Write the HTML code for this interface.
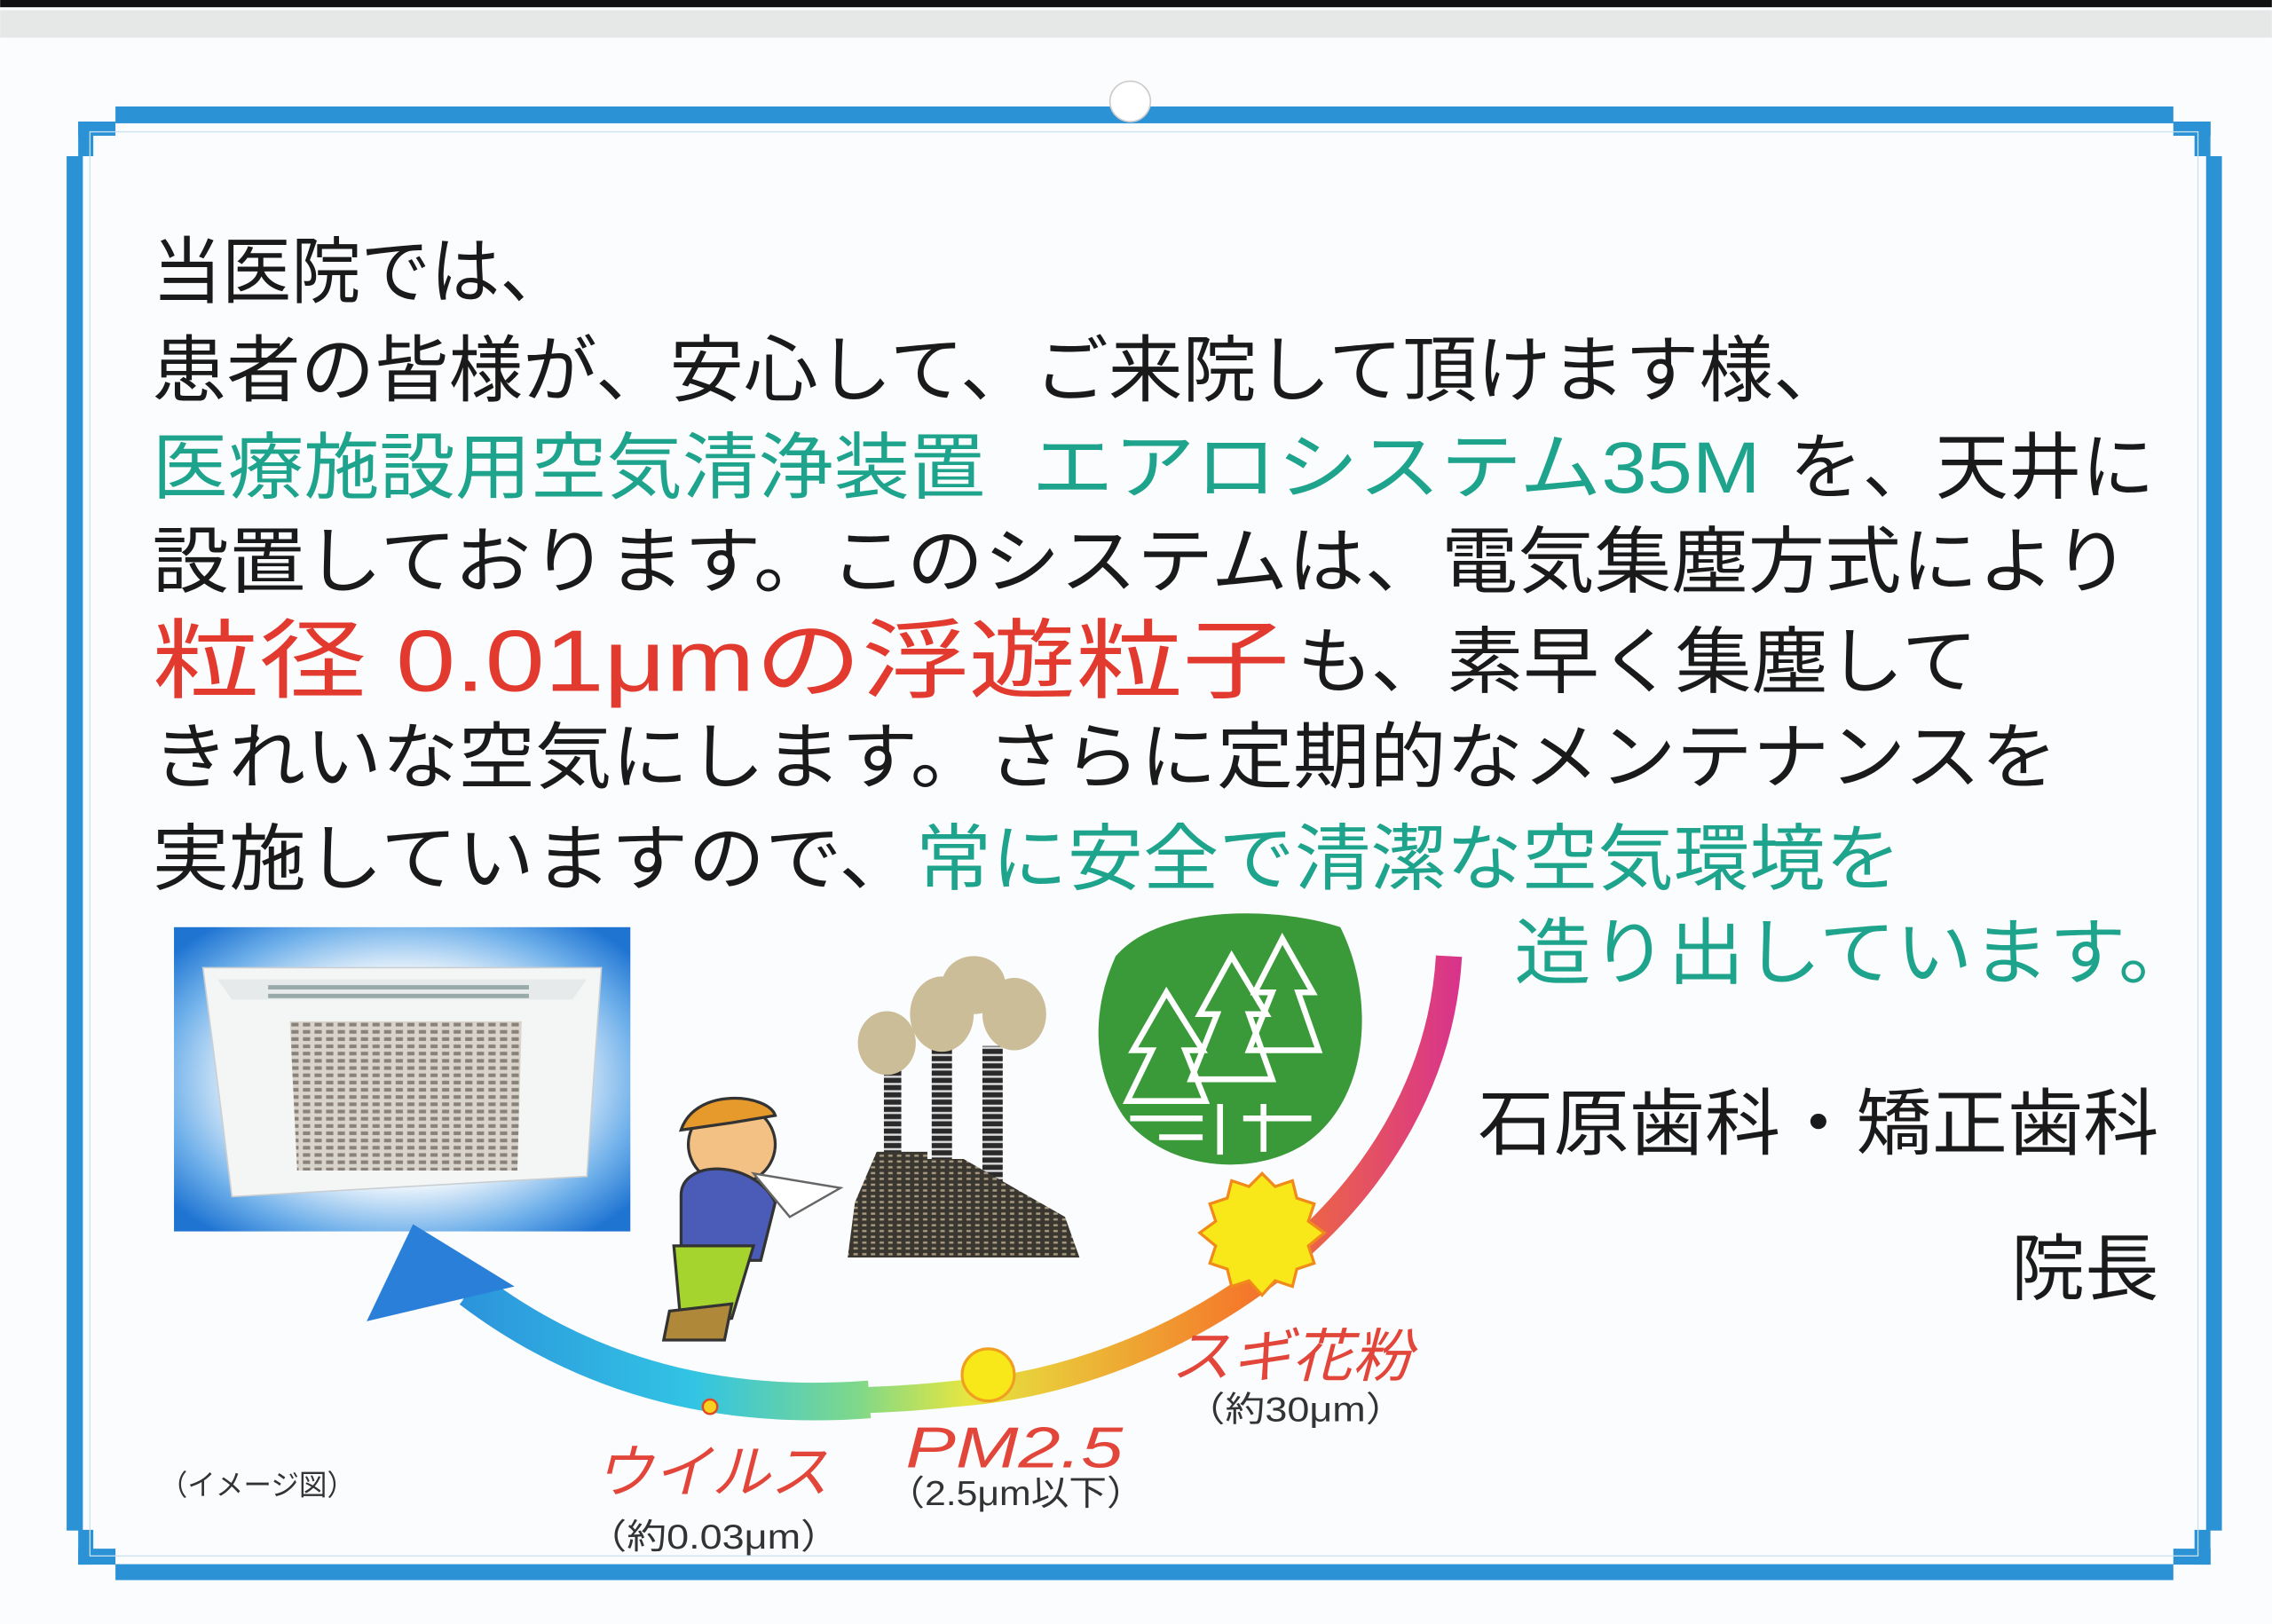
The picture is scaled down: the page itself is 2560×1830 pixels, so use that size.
<!DOCTYPE html>
<html><head><meta charset="utf-8"><style>
html,body{margin:0;padding:0;background:#fbfcfd;}
svg{display:block;}
text{font-family:"Liberation Sans","Noto Sans CJK JP",sans-serif;}
</style></head><body>
<svg width="2560" height="1830" viewBox="0 0 1568 1121" xmlns="http://www.w3.org/2000/svg">
<defs>
<radialGradient id="bx" cx="50%" cy="50%" r="65%">
<stop offset="0.55" stop-color="#e8f2fb"/><stop offset="0.8" stop-color="#6fb0ea"/><stop offset="1" stop-color="#1f74d2"/>
</radialGradient>
<linearGradient id="arc" x1="250" y1="0" x2="1010" y2="0" gradientUnits="userSpaceOnUse">
<stop offset="0" stop-color="#2a7fd8"/><stop offset="0.3" stop-color="#31c4e4"/><stop offset="0.45" stop-color="#7fd88a"/><stop offset="0.55" stop-color="#e6e640"/><stop offset="0.8" stop-color="#f47a2a"/><stop offset="1" stop-color="#d8328e"/>
</linearGradient>
<pattern id="grill" width="8" height="5" patternUnits="userSpaceOnUse"><rect width="8" height="5" fill="#d8d4cc"/><rect x="1" y="1" width="5" height="2.5" fill="#8a8278"/></pattern>
<pattern id="brick" width="6" height="4" patternUnits="userSpaceOnUse"><rect width="6" height="4" fill="#3a3630"/><rect x="1" y="1" width="3" height="1.5" fill="#a89a80"/></pattern>
<pattern id="stripe" width="10" height="5" patternUnits="userSpaceOnUse"><rect width="10" height="5" fill="#2a2a2a"/><rect y="2.5" width="10" height="1.5" fill="#ddd"/></pattern>
</defs>
<rect x="0" y="0" width="1568" height="1121" fill="#fbfcfd"/>
<rect x="0" y="0" width="1568" height="5" fill="#111"/>
<rect x="0" y="7" width="1568" height="19" fill="#e6e8e8"/>
<!-- border -->
<g fill="#2b92d6">
<rect x="79.6" y="73.5" width="1420.4" height="11.6"/>
<rect x="45.9" y="107.8" width="11.2" height="948.7"/>
<rect x="53.9" y="83.9" width="25.7" height="9.8"/>
<rect x="53.9" y="83.9" width="10.4" height="23.9"/>
<rect x="79.6" y="1079.7" width="1420.4" height="11"/>
<rect x="1522.6" y="107.8" width="10.9" height="948.7"/>
<rect x="1500" y="83.9" width="25.7" height="9.8"/>
<rect x="1514.6" y="83.9" width="11" height="23.9"/>
<rect x="1500" y="1069" width="25.7" height="11"/>
<rect x="1514.6" y="1056" width="11" height="24"/>
<rect x="53.9" y="1069" width="25.7" height="11"/>
<rect x="53.9" y="1056" width="10.4" height="24"/>
</g>
<rect x="62" y="91" width="1455" height="983" fill="none" stroke="#c8e2ef" stroke-width="0.8"/>
<circle cx="780" cy="70" r="14" fill="#fff" stroke="#ccc" stroke-width="1"/>

<!-- main text -->
<g font-size="50" fill="#1a1a1a">
<text x="105" y="205" textLength="288" lengthAdjust="spacingAndGlyphs">当医院では、</text>
<text x="105" y="273" textLength="1170" lengthAdjust="spacingAndGlyphs">患者の皆様が、安心して、ご来院して頂けます様、</text>
<text x="105" y="340" fill="#1ea38c" textLength="575" lengthAdjust="spacingAndGlyphs">医療施設用空気清浄装置</text>
<text x="712" y="340" fill="#1ea38c" textLength="503" lengthAdjust="spacingAndGlyphs">エアロシステム35M</text>
<text x="1235" y="340" textLength="252" lengthAdjust="spacingAndGlyphs">を、天井に</text>
<text x="105" y="405" textLength="1365" lengthAdjust="spacingAndGlyphs">設置しております。このシステムは、電気集塵方式により</text>
<text x="105" y="477" font-size="60" fill="#e23a2e" textLength="785" lengthAdjust="spacingAndGlyphs">粒径 0.01μmの浮遊粒子</text>
<text x="895" y="474" textLength="470" lengthAdjust="spacingAndGlyphs">も、素早く集塵して</text>
<text x="105" y="540" textLength="1315" lengthAdjust="spacingAndGlyphs">きれいな空気にします。さらに定期的なメンテナンスを</text>
<text x="105" y="610" textLength="527" lengthAdjust="spacingAndGlyphs">実施していますので、</text>
<text x="632" y="610" fill="#1ea38c" textLength="680" lengthAdjust="spacingAndGlyphs">常に安全で清潔な空気環境を</text>
<text x="1045" y="675" fill="#1ea38c" textLength="470" lengthAdjust="spacingAndGlyphs">造り出しています。</text>
<text x="1020" y="793" textLength="470" lengthAdjust="spacingAndGlyphs">石原歯科・矯正歯科</text>
<text x="1388" y="893" textLength="102" lengthAdjust="spacingAndGlyphs">院長</text>
</g>

<!-- photo box -->
<rect x="120" y="640" width="315" height="210" fill="url(#bx)"/>
<polygon points="140,668 415,668 405,812 160,826" fill="#f4f6f6" stroke="#c9cfd2"/>
<polygon points="150,676 405,676 395,690 160,690" fill="#e6eaea"/>
<rect x="185" y="680" width="180" height="3" fill="#9aa"/>
<rect x="185" y="686" width="180" height="3" fill="#9aa"/>
<polygon points="200,705 360,705 357,808 205,808" fill="url(#grill)"/>

<!-- arc arrow -->
<path d="M1000,660 C990,830 820,950 660,962 C540,975 420,965 325,890" fill="none" stroke="url(#arc)" stroke-width="18"/>
<path d="M600,966 C520,972 420,962 325,890" fill="none" stroke="url(#arc)" stroke-width="26"/>
<polygon points="253,912 285,845 355,888" fill="#2a7fd8"/>

<!-- forest -->
<path d="M770,660 C800,625 880,625 925,640 C950,690 945,760 900,790 C860,815 800,805 775,770 C755,740 752,700 770,660 Z" fill="#3a9a3a"/>
<g fill="none" stroke="#fff" stroke-width="4" stroke-linejoin="miter">
<path d="M805,685 L782,725 L795,725 L778,760 L832,760 L818,725 L830,725 Z"/>
<path d="M850,660 L828,700 L840,700 L822,745 L878,745 L862,700 L874,700 Z"/>
<path d="M885,648 L866,685 L878,685 L862,725 L910,725 L896,685 L906,685 Z"/>
<path d="M780,772 L830,772 M842,762 L842,797 M858,772 L905,772 M872,762 L872,795 M800,785 L830,785"/>
</g>

<!-- factory -->
<g fill="url(#stripe)">
<rect x="610" y="730" width="12" height="85"/>
<rect x="643" y="710" width="14" height="105"/>
<rect x="678" y="722" width="14" height="95"/>
</g>
<polygon points="590,830 605,795 640,795 640,800 665,800 700,820 735,840 745,868 585,868" fill="url(#brick)"/>
<g fill="#cbbd98">
<ellipse cx="612" cy="720" rx="20" ry="22"/>
<ellipse cx="650" cy="700" rx="22" ry="26"/>
<ellipse cx="700" cy="700" rx="22" ry="25"/>
<ellipse cx="672" cy="680" rx="22" ry="20"/>
</g>

<!-- person -->
<ellipse cx="505" cy="790" rx="30" ry="28" fill="#f3c184" stroke="#333" stroke-width="2"/>
<path d="M470,780 C480,750 530,755 535,770 L505,775 Z" fill="#e69a2c" stroke="#333" stroke-width="2"/>
<path d="M470,825 C470,800 520,800 535,830 L525,870 L470,870 Z" fill="#4a5cb8" stroke="#333" stroke-width="2"/>
<path d="M520,810 L580,820 L545,840 Z" fill="#fff" stroke="#666" stroke-width="1.5"/>
<path d="M465,860 L520,860 L505,910 L470,915 Z" fill="#a6d42e" stroke="#333" stroke-width="2"/>
<path d="M462,905 L505,900 L500,925 L458,925 Z" fill="#b0883a" stroke="#333" stroke-width="2"/>

<!-- particles -->
<polygon fill="#f8e81a" stroke="#f08a1a" stroke-width="2" points="871,810 880,819 892,815 895,827 907,831 903,843 914,851 903,860 907,872 895,876 892,888 880,884 871,894 862,884 850,888 847,876 835,872 839,860 828,851 839,843 835,831 847,827 850,815 862,819"/>
<circle cx="682" cy="949" r="18" fill="#f8e81a" stroke="#f0a020" stroke-width="2"/>
<circle cx="490" cy="971" r="5" fill="#f8d020" stroke="#e04a20" stroke-width="1.5"/>

<!-- labels -->
<g font-style="italic">
<text x="808" y="950" font-size="40" fill="#e2463a" textLength="167" lengthAdjust="spacingAndGlyphs">スギ花粉</text>
<text x="625" y="1013" font-size="40" fill="#e2463a" textLength="150" lengthAdjust="spacingAndGlyphs">PM2.5</text>
<text x="410" y="1030" font-size="40" fill="#e2463a" textLength="162" lengthAdjust="spacingAndGlyphs">ウイルス</text>
</g>
<g font-size="24" fill="#333">
<text x="818" y="981" textLength="152" lengthAdjust="spacingAndGlyphs">（約30μm）</text>
<text x="612" y="1039" textLength="178" lengthAdjust="spacingAndGlyphs">（2.5μm以下）</text>
<text x="405" y="1069" textLength="175" lengthAdjust="spacingAndGlyphs">（約0.03μm）</text>
<text x="110" y="1032" font-size="20" textLength="135" lengthAdjust="spacingAndGlyphs">（イメージ図）</text>
</g>
</svg>
</body></html>
